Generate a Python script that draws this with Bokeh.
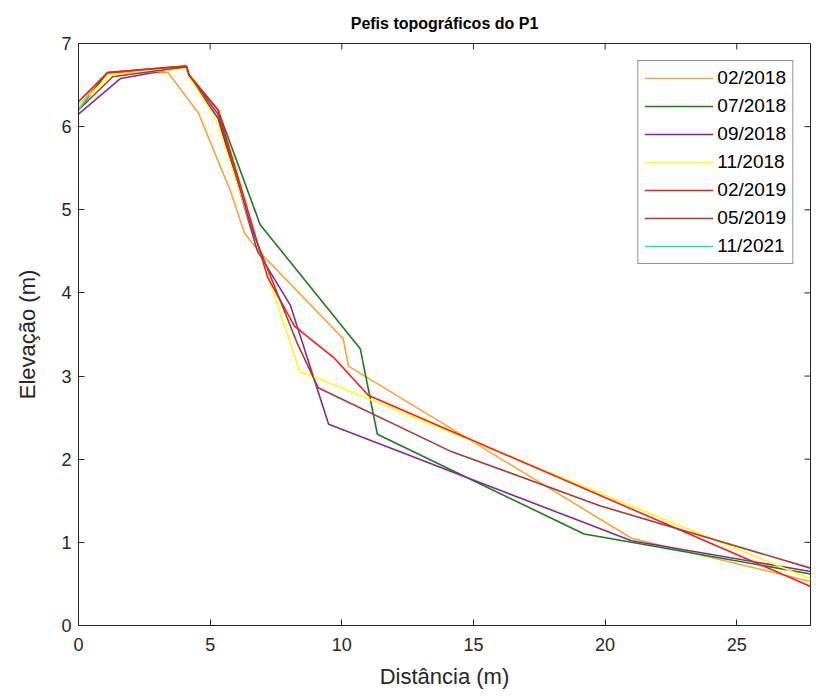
from bokeh.plotting import figure
from bokeh.models import Legend, LegendItem, Range1d, SingleIntervalTicker
from bokeh.embed import file_html
from bokeh.resources import INLINE

labels = ["02/2018", "07/2018", "09/2018", "11/2018", "02/2019", "05/2019", "11/2021"]
colors = ["#F7A53A", "#1F7A1F", "#7E2F8E", "#FFFF1A", "#FF1A1A", "#A23B3B", "#22E3A6"]

x_0218 = [0, 1.1, 3.4, 4.56, 5.8, 6.3, 6.85, 10.05, 10.25, 21.0, 27.8]
y_0218 = [6.25, 6.65, 6.65, 6.16, 5.2, 4.72, 4.5, 3.45, 3.12, 1.05, 0.53]

x_0718 = [0, 1.1, 4.05, 4.2, 5.3, 6.9, 10.7, 11.35, 19.2, 20.3, 27.8]
y_0718 = [6.2, 6.65, 6.73, 6.62, 6.2, 4.82, 3.33, 2.3, 1.1, 1.04, 0.62]

x_0918 = [0, 1.6, 4.1, 4.2, 5.3, 6.8, 8.05, 9.5, 19.1, 21.0, 27.8]
y_0918 = [6.15, 6.58, 6.72, 6.6, 6.1, 4.5, 3.85, 2.42, 1.25, 1.02, 0.65]

x_1118 = [0, 1.2, 4.1, 4.2, 5.2, 8.4, 9.1, 27.8]
y_1118 = [6.25, 6.62, 6.7, 6.6, 6.1, 3.05, 2.97, 0.56]

x_0219 = [0, 1.1, 4.1, 4.2, 5.3, 7.18, 8.2, 9.7, 11.0, 27.8]
y_0219 = [6.3, 6.65, 6.73, 6.62, 6.2, 4.19, 3.6, 3.22, 2.77, 0.47]

x_0519 = [0, 1.3, 4.1, 4.2, 5.3, 6.6, 8.3, 9.1, 14.1, 19.8, 27.8]
y_0519 = [6.2, 6.6, 6.72, 6.62, 6.15, 4.75, 3.4, 2.86, 2.1, 1.44, 0.69]

x_1121 = [0, 0.4]
y_1121 = [6.2, 6.38]

x_ticks = [0, 5, 10, 15, 20, 25]
y_ticks = [0, 1, 2, 3, 4, 5, 6, 7]
x_max = 27.8
y_max = 7

xs = [x_0218, x_0718, x_0918, x_1118, x_0219, x_0519, x_1121]
ys = [y_0218, y_0718, y_0918, y_1118, y_0219, y_0519, y_1121]

FONT = "Liberation Sans"
AX = "#262626"

W, H = 812, 697
BL, BR, BT, BB = 78, 2, 43, 72
frame_w = W - BL - BR
frame_h = H - BT - BB
TICK = 6

p = figure(width=W, height=H, output_backend="svg", toolbar_location=None,
           x_range=Range1d(0, x_max), y_range=Range1d(0, y_max),
           min_border_left=BL, min_border_right=BR, min_border_top=BT, min_border_bottom=BB)
p.title.text = "Pefis topográficos do P1"
p.title.align = "center"
p.title.vertical_align = "bottom"
p.title.standoff = 23
p.title.text_font = FONT
p.title.text_font_size = "16px"
p.title.text_font_style = "bold"
p.title.text_color = "#000000"
p.xgrid.visible = False
p.ygrid.visible = False
p.outline_line_color = AX
p.outline_line_width = 1

p.xaxis.ticker = SingleIntervalTicker(interval=5)
p.yaxis.ticker = SingleIntervalTicker(interval=1)
for ax in (p.xaxis[0], p.yaxis[0]):
    ax.major_tick_in = TICK
    ax.major_tick_out = 0
    ax.minor_tick_in = 0
    ax.minor_tick_out = 0
    ax.axis_line_color = AX
    ax.major_tick_line_color = AX
    ax.major_label_text_font = FONT
    ax.major_label_text_font_size = "18px"
    ax.major_label_text_color = AX
    ax.axis_label_text_font = FONT
    ax.axis_label_text_font_size = "22px"
    ax.axis_label_text_font_style = "normal"
    ax.axis_label_text_color = AX
p.xaxis.axis_label = "Distância (m)"
p.yaxis.axis_label = "Elevação (m)"
p.xaxis.major_label_standoff = 12
p.yaxis.major_label_standoff = 7
p.xaxis.axis_label_standoff = 10
p.yaxis.axis_label_standoff = 18

# inward ticks on the top and right edges of the box
dy = TICK * y_max / frame_h
dx = TICK * x_max / frame_w
p.segment(x0=x_ticks, y0=[y_max] * len(x_ticks), x1=x_ticks, y1=[y_max - dy] * len(x_ticks),
          line_color=AX, line_width=1)
p.segment(x0=[x_max] * len(y_ticks), y0=y_ticks, x1=[x_max - dx] * len(y_ticks), y1=y_ticks,
          line_color=AX, line_width=1)

renderers = [None] * len(labels)
for i in range(len(labels)):
    renderers[i] = p.line(xs[i], ys[i], line_color=colors[i], line_width=1.6)

items = [LegendItem(label=labels[i], renderers=[renderers[i]]) for i in range(len(labels))]
legend = Legend(items=items, location="top_right", margin=17, padding=6, spacing=6,
                glyph_width=69, glyph_height=22, label_height=22, label_standoff=4,
                label_text_font=FONT, label_text_font_size="19px", label_text_color="#000000",
                border_line_color=AX, border_line_width=1, background_fill_color="white",
                background_fill_alpha=1)
p.add_layout(legend, "center")

open("out.html", "w").write(file_html(p, INLINE))
